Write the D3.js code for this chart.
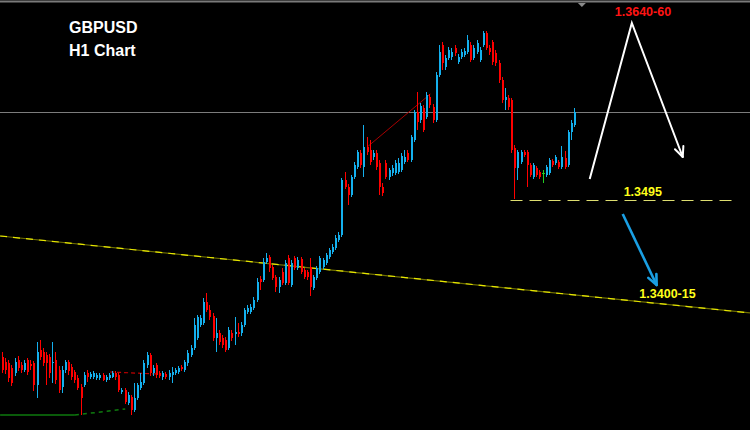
<!DOCTYPE html>
<html><head><meta charset="utf-8">
<script src="https://cdn.jsdelivr.net/npm/d3@7/dist/d3.min.js"></script>
<style>html,body{margin:0;padding:0;background:#000;overflow:hidden}svg{display:block}</style>
</head><body>
<svg id="c" width="750" height="430"></svg>
<script>
// GBPUSD H1 candles (price values)
const open = [
1.3338,1.3333,1.3332,1.3327,1.3322,1.3335,1.3330,1.3325,1.3335,1.3331,
1.3332,1.3310,1.3345,1.3343,1.3340,1.3338,1.3332,1.3335,1.3325,1.3308,
1.3325,1.3333,1.3328,1.3323,1.3317,1.3308,1.3310,1.3322,1.3318,1.3318,
1.3317,1.3317,1.3320,1.3315,1.3317,1.3318,1.3322,1.3320,1.3303,1.3305,
1.3292,1.3298,1.3285,1.3297,1.3307,1.3312,1.3330,1.3340,1.3322,1.3330,
1.3322,1.3318,1.3321,1.3318,1.3320,1.3322,1.3323,1.3328,1.3325,1.3332,
1.3340,1.3347,1.3357,1.3370,1.3372,1.3393,1.3385,1.3379,1.3357,1.3362,
1.3357,1.3355,1.3347,1.3362,1.3361,1.3363,1.3362,1.3370,1.3383,1.3383,
1.3387,1.3395,1.3416,1.3415,1.3433,1.3438,1.3428,1.3418,1.3408,1.3423,
1.3412,1.3437,1.3410,1.3437,1.3427,1.3436,1.3425,1.3423,1.3428,1.3407,
1.3417,1.3423,1.3428,1.3432,1.3438,1.3443,1.3447,1.3455,1.3460,1.3515,
1.3508,1.3500,1.3518,1.3528,1.3542,1.3528,1.3548,1.3545,1.3538,1.3542,
1.3532,1.3508,1.3532,1.3518,1.3522,1.3522,1.3523,1.3525,1.3533,1.3542,
1.3535,1.3555,1.3583,1.3575,1.3587,1.3578,1.3598,1.3588,1.3575,1.3620,
1.3650,1.3628,1.3637,1.3638,1.3647,1.3633,1.3638,1.3640,1.3643,1.3650,
1.3637,1.3643,1.3635,1.3650,1.3662,1.3647,1.3653,1.3642,1.3632,1.3615,
1.3595,1.3597,1.3595,1.3547,1.3527,1.3533,1.3543,1.3543,1.3530,1.3518,
1.3527,1.3523,1.3522,1.3520,1.3522,1.3534,1.3532,1.3533,1.3528,1.3537,
1.3530,1.3563,1.3570];
const high = [
1.3343,1.3337,1.3335,1.3330,1.3337,1.3339,1.3333,1.3335,1.3337,1.3335,
1.3334,1.3353,1.3355,1.3347,1.3343,1.3341,1.3353,1.3343,1.3329,1.3329,
1.3335,1.3335,1.3331,1.3325,1.3320,1.3311,1.3323,1.3325,1.3323,1.3324,
1.3322,1.3322,1.3322,1.3320,1.3322,1.3324,1.3324,1.3322,1.3307,1.3307,
1.3303,1.3300,1.3312,1.3312,1.3322,1.3335,1.3343,1.3342,1.3330,1.3332,
1.3324,1.3324,1.3323,1.3325,1.3328,1.3327,1.3329,1.3330,1.3335,1.3345,
1.3350,1.3377,1.3380,1.3380,1.3397,1.3402,1.3390,1.3382,1.3377,1.3365,
1.3360,1.3358,1.3368,1.3365,1.3378,1.3372,1.3373,1.3387,1.3390,1.3391,
1.3398,1.3417,1.3419,1.3437,1.3442,1.3440,1.3430,1.3420,1.3418,1.3427,
1.3435,1.3440,1.3435,1.3439,1.3438,1.3438,1.3427,1.3425,1.3437,1.3420,
1.3429,1.3439,1.3437,1.3442,1.3447,1.3451,1.3460,1.3463,1.3517,1.3523,
1.3511,1.3520,1.3533,1.3545,1.3545,1.3570,1.3558,1.3555,1.3545,1.3545,
1.3535,1.3512,1.3535,1.3527,1.3530,1.3535,1.3537,1.3542,1.3545,1.3545,
1.3560,1.3585,1.3603,1.3592,1.3590,1.3603,1.3601,1.3591,1.3623,1.3650,
1.3653,1.3640,1.3648,1.3647,1.3650,1.3641,1.3646,1.3647,1.3660,1.3653,
1.3650,1.3655,1.3648,1.3664,1.3664,1.3650,1.3655,1.3645,1.3635,1.3618,
1.3607,1.3600,1.3597,1.3550,1.3545,1.3545,1.3545,1.3545,1.3532,1.3532,
1.3529,1.3525,1.3525,1.3530,1.3537,1.3536,1.3540,1.3535,1.3549,1.3544,
1.3565,1.3575,1.3587];
const low = [
1.3322,1.3321,1.3313,1.3309,1.3319,1.3324,1.3322,1.3323,1.3320,1.3325,
1.3304,1.3297,1.3335,1.3329,1.3310,1.3317,1.3312,1.3311,1.3302,1.3302,
1.3322,1.3320,1.3315,1.3312,1.3305,1.3280,1.3308,1.3313,1.3316,1.3316,
1.3315,1.3315,1.3314,1.3313,1.3315,1.3317,1.3315,1.3303,1.3301,1.3291,
1.3290,1.3280,1.3283,1.3295,1.3305,1.3310,1.3327,1.3319,1.3319,1.3317,
1.3317,1.3315,1.3316,1.3315,1.3312,1.3320,1.3321,1.3324,1.3323,1.3329,
1.3338,1.3345,1.3355,1.3368,1.3370,1.3383,1.3375,1.3354,1.3343,1.3350,
1.3347,1.3343,1.3345,1.3354,1.3350,1.3358,1.3359,1.3368,1.3381,1.3381,
1.3385,1.3393,1.3405,1.3413,1.3431,1.3423,1.3415,1.3403,1.3402,1.3410,
1.3410,1.3410,1.3408,1.3425,1.3425,1.3421,1.3416,1.3415,1.3399,1.3405,
1.3415,1.3421,1.3426,1.3430,1.3436,1.3441,1.3445,1.3453,1.3458,1.3506,
1.3490,1.3498,1.3516,1.3526,1.3527,1.3518,1.3540,1.3530,1.3535,1.3525,
1.3500,1.3499,1.3516,1.3515,1.3519,1.3520,1.3521,1.3523,1.3531,1.3533,
1.3533,1.3553,1.3565,1.3572,1.3563,1.3576,1.3587,1.3572,1.3573,1.3618,
1.3625,1.3625,1.3635,1.3635,1.3639,1.3631,1.3636,1.3638,1.3641,1.3633,
1.3635,1.3641,1.3633,1.3648,1.3645,1.3640,1.3630,1.3629,1.3612,1.3592,
1.3585,1.3585,1.3542,1.3496,1.3515,1.3531,1.3538,1.3508,1.3518,1.3516,
1.3518,1.3516,1.3512,1.3518,1.3520,1.3528,1.3530,1.3526,1.3526,1.3526,
1.3528,1.3555,1.3568];
const close = [
1.3325,1.3325,1.3317,1.3312,1.3333,1.3327,1.3325,1.3332,1.3323,1.3329,
1.3310,1.3343,1.3338,1.3332,1.3332,1.3322,1.3333,1.3315,1.3305,1.3325,
1.3333,1.3324,1.3318,1.3315,1.3307,1.3297,1.3320,1.3318,1.3321,1.3322,
1.3320,1.3320,1.3315,1.3318,1.3320,1.3322,1.3318,1.3305,1.3305,1.3293,
1.3300,1.3285,1.3297,1.3310,1.3313,1.3332,1.3340,1.3322,1.3327,1.3320,
1.3319,1.3322,1.3318,1.3322,1.3323,1.3325,1.3327,1.3326,1.3333,1.3342,
1.3347,1.3370,1.3378,1.3377,1.3393,1.3385,1.3378,1.3357,1.3362,1.3353,
1.3350,1.3345,1.3365,1.3357,1.3363,1.3361,1.3370,1.3385,1.3387,1.3388,
1.3395,1.3413,1.3413,1.3433,1.3437,1.3427,1.3417,1.3408,1.3415,1.3412,
1.3432,1.3412,1.3432,1.3427,1.3435,1.3423,1.3418,1.3418,1.3408,1.3418,
1.3427,1.3437,1.3435,1.3440,1.3445,1.3448,1.3457,1.3460,1.3515,1.3508,
1.3500,1.3518,1.3530,1.3543,1.3530,1.3548,1.3543,1.3533,1.3542,1.3528,
1.3508,1.3502,1.3518,1.3525,1.3527,1.3532,1.3532,1.3539,1.3538,1.3535,
1.3558,1.3583,1.3573,1.3589,1.3565,1.3600,1.3590,1.3575,1.3620,1.3643,
1.3632,1.3637,1.3645,1.3643,1.3642,1.3638,1.3643,1.3644,1.3655,1.3635,
1.3647,1.3652,1.3645,1.3662,1.3647,1.3643,1.3633,1.3632,1.3615,1.3595,
1.3598,1.3588,1.3545,1.3527,1.3543,1.3543,1.3540,1.3530,1.3520,1.3530,
1.3520,1.3518,1.3522,1.3528,1.3535,1.3530,1.3538,1.3528,1.3538,1.3528,
1.3563,1.3572,1.3583];

// Annotation levels / drawing objects (bar index, price)
const bidPrice = 1.3583;
const supportLevel = 1.3495;            // dashed horizontal
const supportRange = [161.8, 234];
const trendLine = [[-0.6, 1.3459], [238.2, 1.3382]];
const greenSolid = [[-0.6, 1.3280], [23.2, 1.3280]];
const greenDotted = [[23.2, 1.3280], [39.2, 1.3286]];
const redDashed = [[34.4, 1.3323], [49.4, 1.3321]];
const redLine = [[116.2, 1.3548], [136.3, 1.3601]];
const whitePath = [[187, 1.3516], [200.4, 1.3672], [216.6, 1.3538]];
const bluePath = [[197.5, 1.3481], [208.3, 1.3410]];
const labels = [
  {text: "1.3640-60", idx: 195.0, price: 1.3679, color: "#ff1414"},
  {text: "1.3495",    idx: 197.8, price: 1.3499, color: "#ffff1a"},
  {text: "1.3400-15", idx: 202.8, price: 1.3397, color: "#ffff1a"}
];
const titleLines = ["GBPUSD", "H1 Chart"];

const W = 750, H = 430;
const svg = d3.select("#c");
svg.append("rect").attr("width", W).attr("height", H).attr("fill", "#000");

const x = d3.scaleLinear().domain([0, open.length - 1]).range([2, 574]);
const y = d3.scaleLinear().domain([1.3695, 1.3265]).range([0, H]);
const line = d3.line().x(d => x(d[0])).y(d => y(d[1]));

// top border and marker
svg.append("line").attr("x1", 0).attr("x2", W).attr("y1", 1.5).attr("y2", 1.5)
  .attr("stroke", "#7a7a7a").attr("stroke-width", 2);
svg.append("path").attr("d", `M${x(184.5)-4},3 L${x(184.5)+4},3 L${x(184.5)},7 Z`).attr("fill", "#8a8a8a");

// bid line
svg.append("line").attr("x1", 0).attr("x2", W).attr("y1", Math.round(y(bidPrice)) + 0.5).attr("y2", Math.round(y(bidPrice)) + 0.5)
  .attr("stroke", "#7c7c7c").attr("stroke-width", 1);

// trend line (yellow dashed)
svg.append("path").attr("d", line(trendLine)).attr("fill", "none")
  .attr("stroke", "#6e6e00").attr("stroke-width", 1.2);
svg.append("path").attr("d", line(trendLine)).attr("fill", "none")
  .attr("stroke", "#e6e600").attr("stroke-width", 1.2).attr("stroke-dasharray", "7,6");

// support dashed
svg.append("line").attr("x1", x(supportRange[0])).attr("x2", x(supportRange[1]))
  .attr("y1", Math.round(y(supportLevel)) + 0.5).attr("y2", Math.round(y(supportLevel)) + 0.5)
  .attr("stroke", "#dede70").attr("stroke-width", 1.2).attr("stroke-dasharray", "12,7");

// green bottom lines
svg.append("path").attr("d", line(greenSolid)).attr("stroke", "#0e7a0e").attr("stroke-width", 1.5).attr("fill", "none");
svg.append("path").attr("d", line(greenDotted)).attr("stroke", "#0e7a0e").attr("stroke-width", 1.5)
  .attr("stroke-dasharray", "4,4").attr("fill", "none");
// red dashed & red line
svg.append("path").attr("d", line(redDashed)).attr("stroke", "#c00000").attr("stroke-width", 1.2)
  .attr("stroke-dasharray", "4,3").attr("fill", "none");
svg.append("path").attr("d", line(redLine)).attr("stroke", "#a80000").attr("stroke-width", 1).attr("fill", "none");

// candles
const idx = d3.range(open.length);
const colorOf = i => close[i] > open[i] ? "#14b0ee" : (close[i] < open[i] ? "#ff0000" : "#22cc22");
const g = svg.append("g");
g.selectAll("line.w").data(idx).join("line")
  .attr("x1", i => Math.round(x(i)) + 0.5).attr("x2", i => Math.round(x(i)) + 0.5)
  .attr("y1", i => y(high[i])).attr("y2", i => y(low[i]))
  .attr("stroke", colorOf).attr("stroke-width", 1);
g.selectAll("rect.b").data(idx).join("rect")
  .attr("x", i => Math.round(x(i)) - (close[i] === open[i] ? 1 : 0))
  .attr("width", i => close[i] === open[i] ? 3 : 2)
  .attr("y", i => y(Math.max(open[i], close[i])))
  .attr("height", i => Math.max(1, y(Math.min(open[i], close[i])) - y(Math.max(open[i], close[i]))))
  .attr("fill", colorOf);

// arrows
function arrow(pts, color, w, len) {
  svg.append("path").attr("d", line(pts)).attr("fill", "none").attr("stroke", color)
    .attr("stroke-width", w).attr("stroke-linejoin", "miter");
  const a = pts[pts.length - 2], b = pts[pts.length - 1];
  const x1 = x(a[0]), y1 = y(a[1]), x2 = x(b[0]), y2 = y(b[1]);
  const ang = Math.atan2(y2 - y1, x2 - x1);
  [0.42, -0.42].forEach(d => {
    svg.append("line").attr("x1", x2).attr("y1", y2)
      .attr("x2", x2 - len * Math.cos(ang + d)).attr("y2", y2 - len * Math.sin(ang + d))
      .attr("stroke", color).attr("stroke-width", w).attr("stroke-linecap", "round");
  });
}
arrow(whitePath, "#ffffff", 2, 11);
arrow(bluePath, "#1a9fe3", 2.6, 11);

// labels
svg.selectAll("text.lv").data(labels).join("text")
  .attr("x", d => x(d.idx)).attr("y", d => y(d.price))
  .attr("fill", d => d.color).attr("font-family", "Liberation Sans, Arial, sans-serif")
  .attr("font-weight", "bold").attr("font-size", 12.5)
  .text(d => d.text);

svg.selectAll("text.tt").data(titleLines).join("text")
  .attr("x", 69).attr("y", (d, i) => 33 + i * 23)
  .attr("fill", "#ffffff").attr("font-family", "Liberation Sans, Arial, sans-serif")
  .attr("font-weight", "bold").attr("font-size", 16)
  .text(d => d);
</script>
</body></html>
